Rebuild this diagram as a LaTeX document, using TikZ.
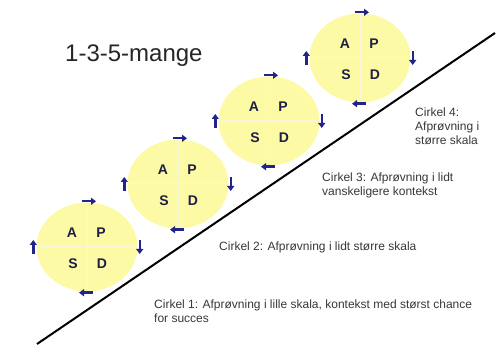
\documentclass[tikz,border=0pt]{standalone}
\usepackage{fontspec}
\setmainfont{Liberation Sans}
\usetikzlibrary{shapes,calc,arrows.meta}

\definecolor{pdsafill}{RGB}{252,250,165}
\definecolor{pdsaline}{RGB}{248,247,218}
\definecolor{pdsaarrow}{RGB}{35,35,140}
\definecolor{pdsatext}{RGB}{30,30,70}
\definecolor{notetext}{RGB}{55,55,55}

\tikzset{
  pdsa/.style={ellipse, fill=pdsafill, minimum width=101pt, minimum height=89pt, inner sep=0pt},
  cross/.style={pdsaline, line width=1pt},
  letter/.style={inner sep=0pt, text=pdsatext, font=\fontsize{14}{14}\selectfont\bfseries},
  cyclearrow/.style={pdsaarrow, line width=2.4pt, -{Triangle[length=5pt,width=7pt]}},
  note/.style={inner sep=0pt, anchor=north west, align=left, text=notetext, font=\fontsize{12}{14}\selectfont}
}

\begin{document}
\begin{tikzpicture}[x=1pt,y=-1pt]
  \useasboundingbox (0,0) rectangle (498,347);

  \node[anchor=base west, inner sep=0pt, text=black!85, font=\fontsize{24}{24}\selectfont] (title) at (65,62) {1-3-5-mange};

  % cirkel 1
  \node[pdsa] (c1) at (87,247) {};
  \draw[cross] (c1.north) -- (c1.south) (c1.west) -- (c1.east);
  \node[letter] (c1a) at ($(c1)+(-15,-14)$) {A}; \node[letter] (c1p) at ($(c1)+(14,-14)$) {P};
  \node[letter] (c1s) at ($(c1)+(-14,17)$) {S}; \node[letter] (c1d) at ($(c1)+(15,17)$) {D};
  \draw[cyclearrow] ([shift={(-5,-1)}]c1.north) -- ([shift={(9,-1)}]c1.north);
  \draw[cyclearrow] ([shift={(2,-7)}]c1.east) -- ([shift={(2,7)}]c1.east);
  \draw[cyclearrow] ([shift={(6,1)}]c1.south) -- ([shift={(-8,1)}]c1.south);
  \draw[cyclearrow] ([shift={(-3,7)}]c1.west) -- ([shift={(-3,-7)}]c1.west);

  % cirkel 2
  \node[pdsa] (c2) at (178,184) {};
  \draw[cross] (c2.north) -- (c2.south) (c2.west) -- (c2.east);
  \node[letter] (c2a) at ($(c2)+(-15,-14)$) {A}; \node[letter] (c2p) at ($(c2)+(14,-14)$) {P};
  \node[letter] (c2s) at ($(c2)+(-14,17)$) {S}; \node[letter] (c2d) at ($(c2)+(15,17)$) {D};
  \draw[cyclearrow] ([shift={(-5,-1)}]c2.north) -- ([shift={(9,-1)}]c2.north);
  \draw[cyclearrow] ([shift={(2,-7)}]c2.east) -- ([shift={(2,7)}]c2.east);
  \draw[cyclearrow] ([shift={(6,1)}]c2.south) -- ([shift={(-8,1)}]c2.south);
  \draw[cyclearrow] ([shift={(-3,7)}]c2.west) -- ([shift={(-3,-7)}]c2.west);

  % cirkel 3
  \node[pdsa] (c3) at (269,121) {};
  \draw[cross] (c3.north) -- (c3.south) (c3.west) -- (c3.east);
  \node[letter] (c3a) at ($(c3)+(-15,-14)$) {A}; \node[letter] (c3p) at ($(c3)+(14,-14)$) {P};
  \node[letter] (c3s) at ($(c3)+(-14,17)$) {S}; \node[letter] (c3d) at ($(c3)+(15,17)$) {D};
  \draw[cyclearrow] ([shift={(-5,-1)}]c3.north) -- ([shift={(9,-1)}]c3.north);
  \draw[cyclearrow] ([shift={(2,-7)}]c3.east) -- ([shift={(2,7)}]c3.east);
  \draw[cyclearrow] ([shift={(6,1)}]c3.south) -- ([shift={(-8,1)}]c3.south);
  \draw[cyclearrow] ([shift={(-3,7)}]c3.west) -- ([shift={(-3,-7)}]c3.west);

  % cirkel 4
  \node[pdsa] (c4) at (360,58) {};
  \draw[cross] (c4.north) -- (c4.south) (c4.west) -- (c4.east);
  \node[letter] (c4a) at ($(c4)+(-15,-14)$) {A}; \node[letter] (c4p) at ($(c4)+(14,-14)$) {P};
  \node[letter] (c4s) at ($(c4)+(-14,17)$) {S}; \node[letter] (c4d) at ($(c4)+(15,17)$) {D};
  \draw[cyclearrow] ([shift={(-5,-1)}]c4.north) -- ([shift={(9,-1)}]c4.north);
  \draw[cyclearrow] ([shift={(2,-7)}]c4.east) -- ([shift={(2,7)}]c4.east);
  \draw[cyclearrow] ([shift={(6,1)}]c4.south) -- ([shift={(-8,1)}]c4.south);
  \draw[cyclearrow] ([shift={(-3,7)}]c4.west) -- ([shift={(-3,-7)}]c4.west);

  \draw[line width=2pt] (37,344) -- (495,33);

  \node[note] (t4) at (415,107.5) {Cirkel 4:\\Afprøvning i\\større skala};
  \node[note] (t3) at (322,172.5) {Cirkel 3: Afprøvning i lidt\\vanskeligere kontekst};
  \node[note] (t2) at (219,241.5) {Cirkel 2: Afprøvning i lidt større skala};
  \node[note] (t1) at (154,299.5) {Cirkel 1: Afprøvning i lille skala, kontekst med størst chance\\for succes};
\end{tikzpicture}
\end{document}
